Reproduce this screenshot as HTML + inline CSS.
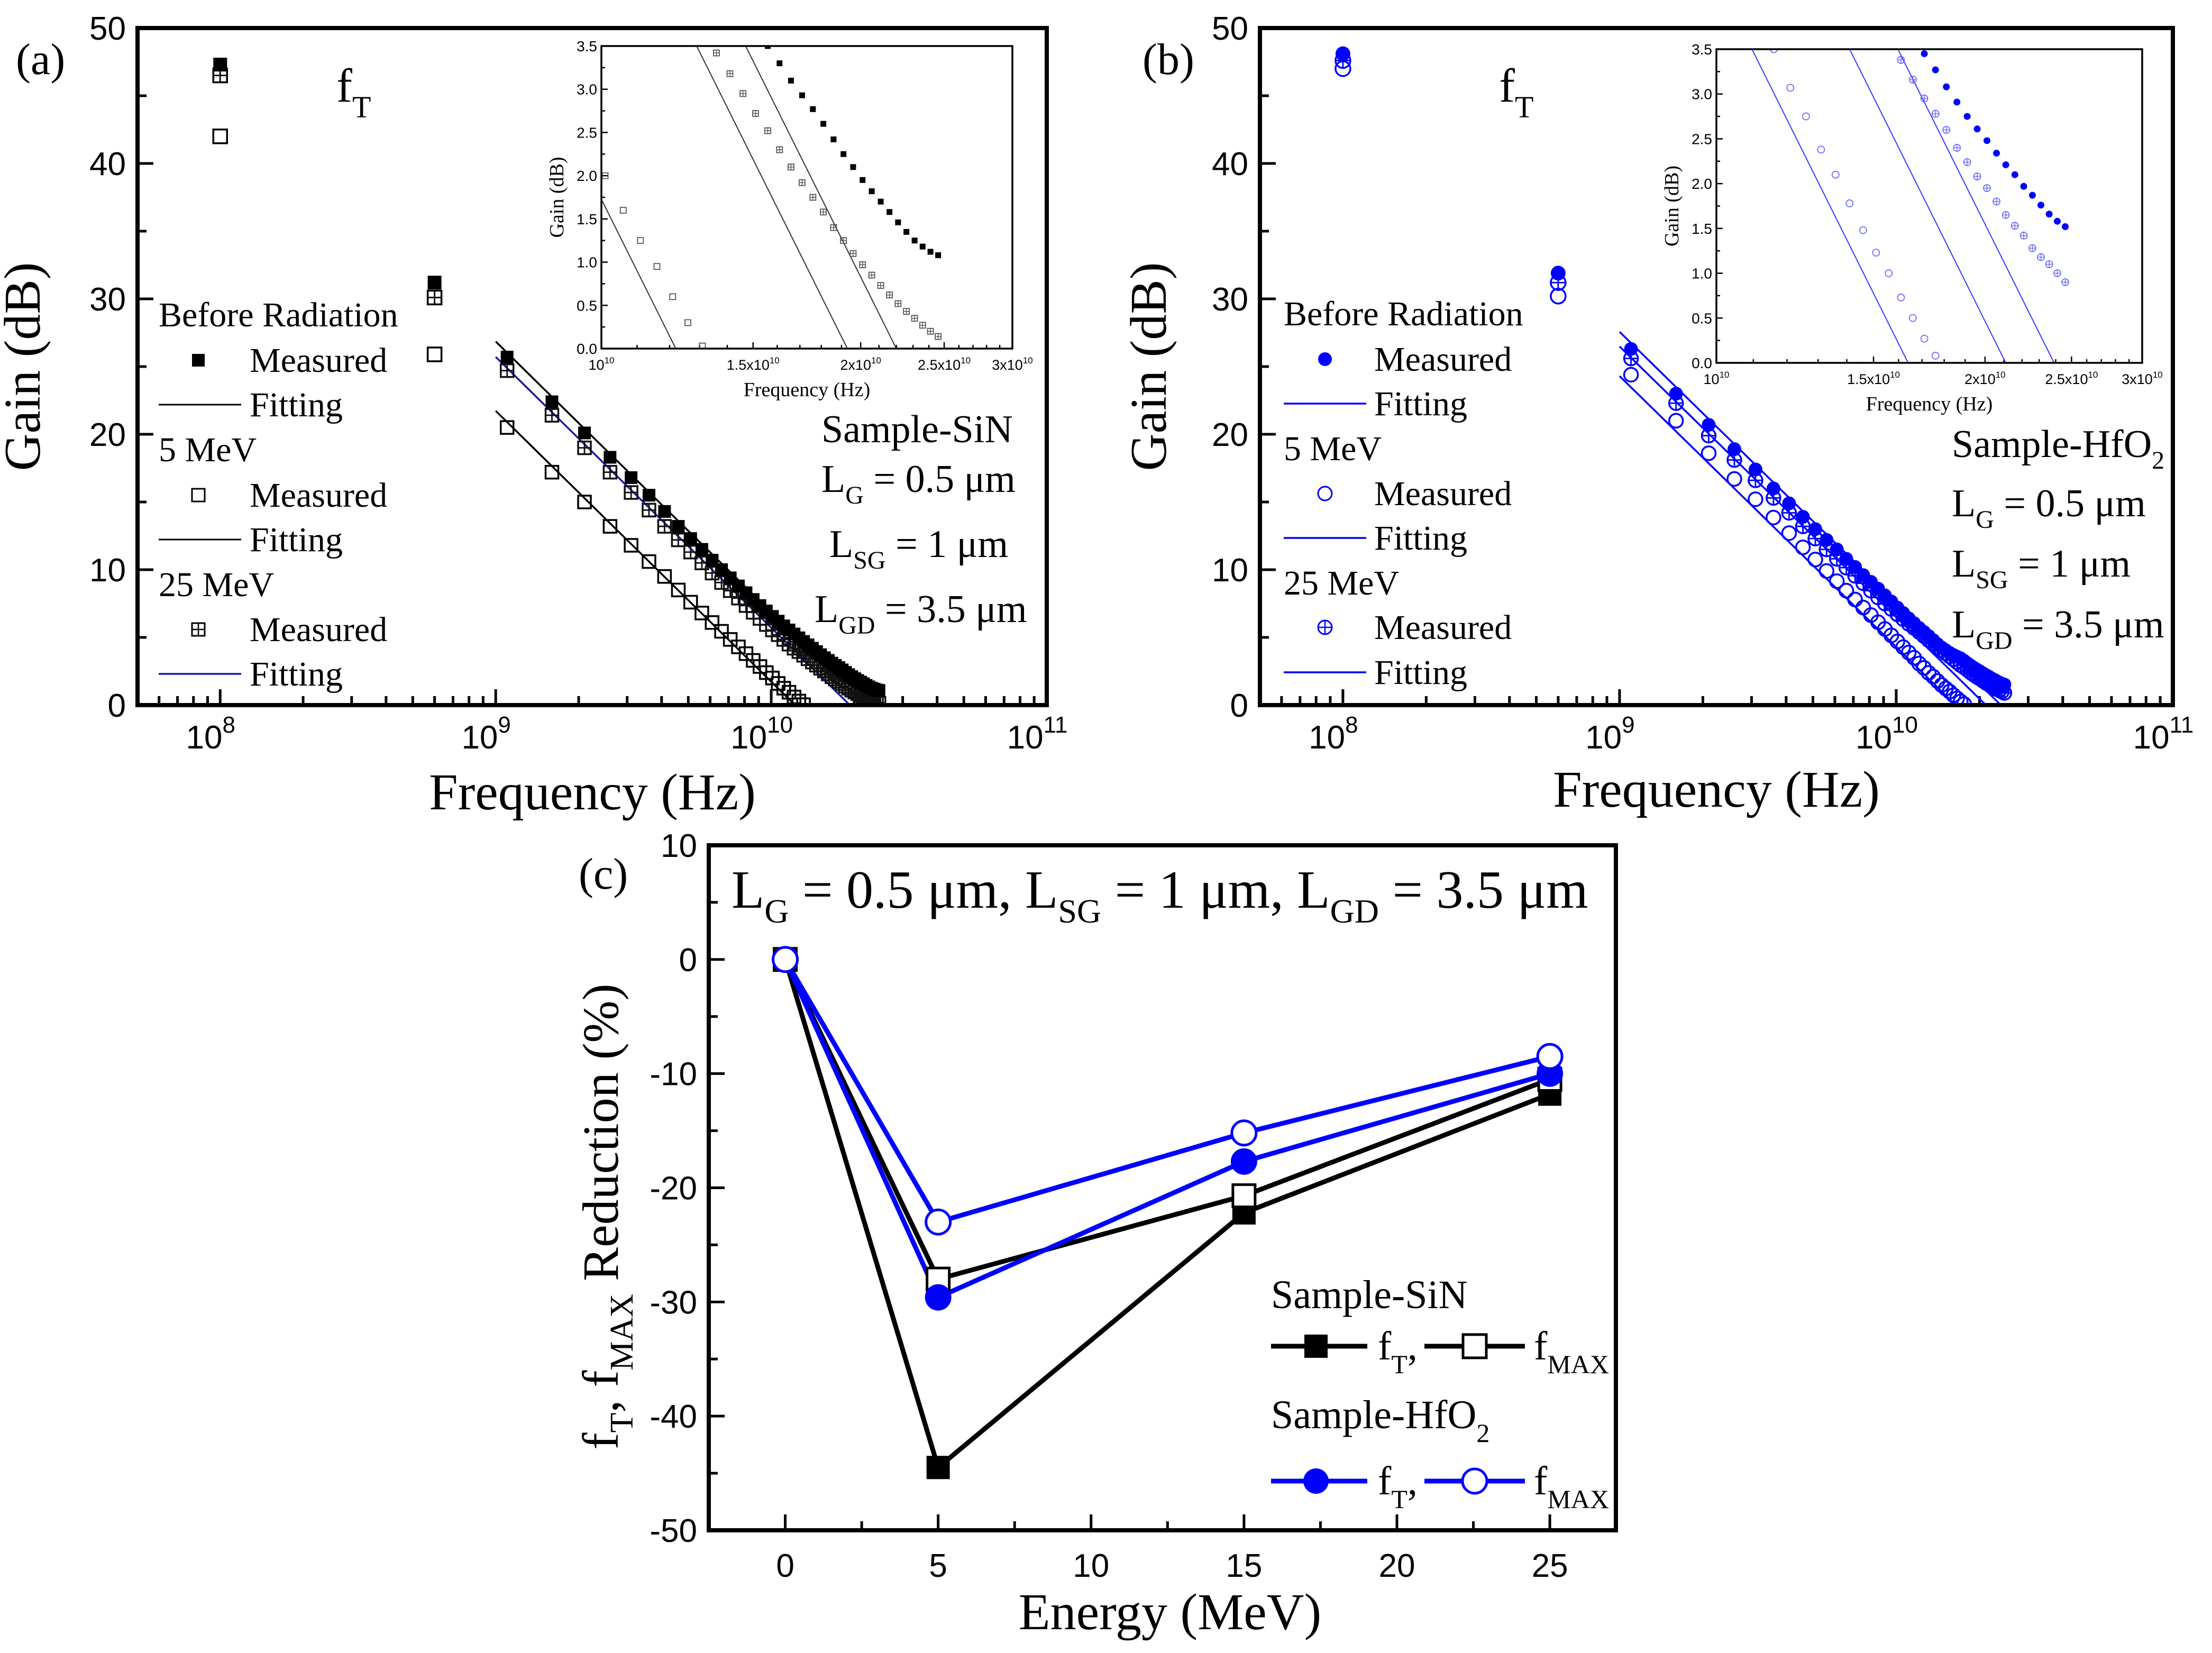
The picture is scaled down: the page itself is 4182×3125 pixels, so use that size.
<!DOCTYPE html>
<html><head><meta charset="utf-8"><title>Gain vs Frequency and fT/fMAX Reduction</title>
<style>
html,body{margin:0;padding:0;background:#fff;}
svg{display:block;}
.serif{font-family:"Liberation Serif","DejaVu Serif",serif;}
.sans{font-family:"Liberation Sans","DejaVu Sans",sans-serif;}
</style></head>
<body>
<svg id="fig" xmlns="http://www.w3.org/2000/svg" width="4182" height="3125" viewBox="0 0 4182 3125">
<defs>
<clipPath id="clipA"><rect x="260" y="53" width="1719" height="1280"/></clipPath>
<clipPath id="clipB"><rect x="2382" y="53" width="1726" height="1280"/></clipPath>
<clipPath id="clipIA"><rect x="1137" y="87" width="777" height="572"/></clipPath>
<clipPath id="clipIB"><rect x="3245" y="93" width="805" height="593"/></clipPath>
</defs>
<rect x="0" y="0" width="4182" height="3125" fill="#fff"/>

<!-- Panel labels -->
<text class="serif" x="30" y="140" font-size="84">(a)</text>
<text class="serif" x="2160" y="140" font-size="84">(b)</text>
<text class="serif" x="1094" y="1680" font-size="84">(c)</text>

<!-- Panel A texts -->
<text class="serif" x="75" y="693" font-size="98" text-anchor="middle" transform="rotate(-90 75 693)">Gain (dB)</text>
<text class="serif" x="1120" y="1530" font-size="98" text-anchor="middle">Frequency (Hz)</text>
<text class="serif" x="636" y="192" font-size="90">f<tspan font-size="58" dy="30">T</tspan></text>
<g class="serif" font-size="66">
<text x="300" y="617">Before Radiation</text>
<rect x="363" y="669" width="24" height="24" fill="#000"/>
<text x="472" y="703">Measured</text>
<line x1="300" y1="765" x2="456" y2="765" stroke="#000" stroke-width="3"/>
<text x="472" y="787">Fitting</text>
<text x="300" y="872">5 MeV</text>
<rect x="363" y="924" width="24" height="24" fill="none" stroke="#000" stroke-width="3"/>
<text x="472" y="958">Measured</text>
<line x1="300" y1="1020" x2="456" y2="1020" stroke="#000" stroke-width="3"/>
<text x="472" y="1042">Fitting</text>
<text x="300" y="1127">25 MeV</text>
<g><rect x="363" y="1178" width="24" height="24" fill="none" stroke="#000" stroke-width="3"/><line x1="375" y1="1178" x2="375" y2="1202" stroke="#000" stroke-width="2.5"/><line x1="363" y1="1190" x2="387" y2="1190" stroke="#000" stroke-width="2.5"/></g>
<text x="472" y="1212">Measured</text>
<line x1="300" y1="1274" x2="456" y2="1274" stroke="#1a1aa0" stroke-width="3.5"/>
<text x="472" y="1296">Fitting</text>
</g>
<g class="serif" font-size="74">
<text x="1553" y="836">Sample-SiN</text>
<text x="1553" y="930">L<tspan font-size="48" dy="22">G</tspan><tspan dy="-22"> = 0.5 μm</tspan></text>
<text x="1568" y="1053">L<tspan font-size="48" dy="22">SG</tspan><tspan dy="-22"> = 1 μm</tspan></text>
<text x="1540" y="1176">L<tspan font-size="48" dy="22">GD</tspan><tspan dy="-22"> = 3.5 μm</tspan></text>
</g>

<!-- Panel B texts -->
<text class="serif" x="2204" y="693" font-size="98" text-anchor="middle" transform="rotate(-90 2204 693)">Gain (dB)</text>
<text class="serif" x="3245" y="1525" font-size="98" text-anchor="middle">Frequency (Hz)</text>
<text class="serif" x="2834" y="192" font-size="90">f<tspan font-size="58" dy="30">T</tspan></text>
<g class="serif" font-size="66">
<text x="2427" y="615">Before Radiation</text>
<circle cx="2505" cy="679" r="13" fill="#0000ff"/>
<text x="2598" y="701">Measured</text>
<line x1="2427" y1="763" x2="2583" y2="763" stroke="#0000ff" stroke-width="3.5"/>
<text x="2598" y="785">Fitting</text>
<text x="2427" y="870">5 MeV</text>
<circle cx="2505" cy="933" r="13" fill="none" stroke="#0000ff" stroke-width="3"/>
<text x="2598" y="955">Measured</text>
<line x1="2427" y1="1017" x2="2583" y2="1017" stroke="#0000ff" stroke-width="3.5"/>
<text x="2598" y="1039">Fitting</text>
<text x="2427" y="1124">25 MeV</text>
<g><circle cx="2505" cy="1186" r="13" fill="none" stroke="#0000ff" stroke-width="3"/><line x1="2505" y1="1173" x2="2505" y2="1199" stroke="#0000ff" stroke-width="2.5"/><line x1="2492" y1="1186" x2="2518" y2="1186" stroke="#0000ff" stroke-width="2.5"/></g>
<text x="2598" y="1208">Measured</text>
<line x1="2427" y1="1271" x2="2583" y2="1271" stroke="#0000ff" stroke-width="3.5"/>
<text x="2598" y="1293">Fitting</text>
</g>
<g class="serif" font-size="74">
<text x="3690" y="864">Sample-HfO<tspan font-size="48" dy="22">2</tspan></text>
<text x="3690" y="976">L<tspan font-size="48" dy="22">G</tspan><tspan dy="-22"> = 0.5 μm</tspan></text>
<text x="3690" y="1090">L<tspan font-size="48" dy="22">SG</tspan><tspan dy="-22"> = 1 μm</tspan></text>
<text x="3690" y="1205">L<tspan font-size="48" dy="22">GD</tspan><tspan dy="-22"> = 3.5 μm</tspan></text>
</g>

<!-- Panel C texts -->
<text class="serif" x="1383" y="1716" font-size="102">L<tspan font-size="64" dy="28">G</tspan><tspan dy="-28"> = 0.5 μm, L</tspan><tspan font-size="64" dy="28">SG</tspan><tspan dy="-28"> = 1 μm, L</tspan><tspan font-size="64" dy="28">GD</tspan><tspan dy="-28"> = 3.5 μm</tspan></text>
<text class="serif" x="0" y="0" font-size="96" text-anchor="middle" transform="translate(1168 2300) rotate(-90)">f<tspan font-size="62" dy="28">T</tspan><tspan dy="-28">, f</tspan><tspan font-size="62" dy="28">MAX</tspan><tspan dy="-28"> Reduction (%)</tspan></text>
<text class="serif" x="2212" y="3080" font-size="98" text-anchor="middle">Energy (MeV)</text>
<g class="serif" font-size="76">
<text x="2403" y="2473">Sample-SiN</text>
<line x1="2403" y1="2545" x2="2585" y2="2545" stroke="#000" stroke-width="9"/>
<rect x="2466" y="2523" width="44" height="44" fill="#000"/>
<text x="2605" y="2570">f<tspan font-size="50" dy="26">T</tspan><tspan dy="-26">,</tspan></text>
<line x1="2693" y1="2545" x2="2883" y2="2545" stroke="#000" stroke-width="9"/>
<rect x="2766" y="2523" width="44" height="44" fill="#fff" stroke="#000" stroke-width="5"/>
<text x="2900" y="2570">f<tspan font-size="50" dy="26">MAX</tspan></text>
<text x="2403" y="2700">Sample-HfO<tspan font-size="50" dy="26">2</tspan></text>
<line x1="2403" y1="2800" x2="2585" y2="2800" stroke="#0000ff" stroke-width="9"/>
<circle cx="2488" cy="2800" r="24" fill="#0000ff"/>
<text x="2605" y="2825">f<tspan font-size="50" dy="26">T</tspan><tspan dy="-26">,</tspan></text>
<line x1="2693" y1="2800" x2="2883" y2="2800" stroke="#0000ff" stroke-width="9"/>
<circle cx="2788" cy="2800" r="23" fill="#fff" stroke="#0000ff" stroke-width="5"/>
<text x="2900" y="2825">f<tspan font-size="50" dy="26">MAX</tspan></text>
</g>
</svg>

<script>
// ---------- DATA ----------
const lowFreqGHz = [0.1, 0.6];
const lowBeforeA = [47.3, 31.2];
const low5MeVA = [42.0, 25.9];
const low25MeVA = [46.5, 30.1];
const sweepGHz = [1.1,1.6,2.1,2.6,3.1,3.6,4.1,4.6,5.1,5.6,6.1,6.6,7.1,7.6,8.1,8.6,9.1,9.6,10.1,10.6,11.1,11.6,12.1,12.6,13.1,13.6,14.1,14.6,15.1,15.6,16.1,16.6,17.1,17.6,18.1,18.6,19.1,19.6,20.1,20.6,21.1,21.6,22.1,22.6,23.1,23.6,24.1,24.6];
const beforeA = [25.7,22.4,20.1,18.3,16.8,15.5,14.3,13.2,12.3,11.5,10.7,10.0,9.4,8.8,8.3,7.8,7.35,6.95,6.55,6.2,5.85,5.55,5.25,4.97,4.7,4.45,4.2,3.95,3.72,3.5,3.3,3.1,2.93,2.77,2.6,2.42,2.25,2.1,1.95,1.82,1.7,1.58,1.46,1.35,1.25,1.18,1.12,1.08];
const rad5MeVA = [20.5,17.2,15.0,13.2,11.8,10.6,9.5,8.5,7.6,6.8,6.1,5.45,4.85,4.3,3.8,3.3,2.85,2.4,2.0,1.6,1.25,0.95,0.6,0.3,0.03];
const rad25MeVA = [24.7,21.4,19.0,17.2,15.7,14.4,13.2,12.2,11.3,10.5,9.75,9.05,8.45,7.9,7.35,6.85,6.4,5.95,5.55,5.2,4.85,4.5,4.2,3.95,3.68,3.42,3.18,2.95,2.72,2.52,2.3,2.1,1.92,1.75,1.58,1.4,1.25,1.1,0.97,0.85,0.73,0.62,0.52,0.43,0.35,0.27,0.2,0.14];
const fitFtA = [22.0, 12.2, 19.3];

const lowBeforeB = [48.1, 31.9];
const low5MeVB = [47.0, 30.2];
const low25MeVB = [47.6, 31.2];
const beforeB = [26.3,23.0,20.7,18.9,17.4,16.0,14.9,13.9,13.0,12.2,11.5,10.8,10.2,9.6,9.1,8.6,8.1,7.65,7.2,6.8,6.4,6.05,5.7,5.4,5.1,4.8,4.5,4.25,4.05,3.85,3.7,3.57,3.45,3.27,3.08,2.91,2.75,2.61,2.48,2.34,2.21,2.1,1.97,1.87,1.76,1.66,1.58,1.52];
const rad5MeVB = [24.4,21.0,18.6,16.7,15.2,13.85,12.7,11.65,10.75,9.9,9.15,8.45,7.8,7.2,6.65,6.12,5.62,5.15,4.7,4.28,3.88,3.5,3.07,2.75,2.38,2.1,1.78,1.48,1.23,1.0,0.73,0.5,0.27,0.08];
const rad25MeVB = [25.6,22.3,19.9,18.1,16.6,15.3,14.2,13.2,12.3,11.5,10.8,10.15,9.55,9.0,8.45,7.95,7.5,7.1,6.7,6.35,6.0,5.7,5.4,5.1,4.8,4.55,4.3,4.05,3.82,3.6,3.38,3.16,2.95,2.78,2.6,2.4,2.24,2.08,1.95,1.8,1.65,1.53,1.42,1.28,1.18,1.1,1.0,0.9];
const fitFtB = [21.1, 16.4, 23.9];

const energyMeV = [0, 5, 15, 25];
const sinFt = [0, -44.5, -22.2, -11.8];
const sinFmax = [0, -28.0, -20.7, -10.5];
const hfo2Ft = [0, -29.6, -17.7, -10.0];
const hfo2Fmax = [0, -23.0, -15.2, -8.5];

const mainYTicks = [0, 10, 20, 30, 40, 50];
const mainXExp = [8, 9, 10, 11];
const insetYTicks = ['0.0','0.5','1.0','1.5','2.0','2.5','3.0','3.5'];
const insetXTicks = [1.0, 1.5, 2.0, 2.5, 3.0];
const cXTicks = [0, 5, 10, 15, 20, 25];
const cYTicks = [10, 0, -10, -20, -30, -40, -50];

// ---------- DRAWING ----------
const NS = 'http://www.w3.org/2000/svg';
const svg = document.getElementById('fig');
function mk(tag, attrs, name, parent) {
  const el = document.createElementNS(NS, tag);
  for (const k in attrs) el.setAttribute(k, attrs[k]);
  
  
  (parent || svg).appendChild(el);
  return el;
}
function logAxis(L, R, lmin, lmax) { return f => L + (Math.log10(f) - lmin) / (lmax - lmin) * (R - L); }
function linAxis(a, b, vmin, vmax) { return v => a + (v - vmin) / (vmax - vmin) * (b - a); }

const PA = {L:260, R:1979, T:53, B:1333};
const PB = {L:2382, R:4108, T:53, B:1333};
const IA = {L:1137, R:1914, T:87, B:659};
const IB = {L:3245, R:4050, T:93, B:686};
const PC = {L:1340, R:3055, T:1598, B:2893};

function marker(g, kind, x, y, s, color, sw, name) {
  if (kind === 'fsq') {
    mk('rect', {x:x-s/2, y:y-s/2, width:s, height:s, fill:color}, name, g);
  } else if (kind === 'osq') {
    mk('rect', {x:x-s/2, y:y-s/2, width:s, height:s, fill:'none', stroke:color, 'stroke-width':sw}, name, g);
  } else if (kind === 'xsq') {
    const gg = mk('g', {}, name, g);
    mk('rect', {x:x-s/2, y:y-s/2, width:s, height:s, fill:'none', stroke:color, 'stroke-width':sw}, 'marker-box', gg);
    mk('path', {d:`M${x} ${y-s/2}V${y+s/2}M${x-s/2} ${y}H${x+s/2}`, stroke:color, 'stroke-width':sw*0.8}, 'marker-cross', gg);
  } else if (kind === 'fci') {
    mk('circle', {cx:x, cy:y, r:s/2, fill:color}, name, g);
  } else if (kind === 'oci') {
    mk('circle', {cx:x, cy:y, r:s/2, fill:'none', stroke:color, 'stroke-width':sw}, name, g);
  } else if (kind === 'xci') {
    const gg = mk('g', {}, name, g);
    mk('circle', {cx:x, cy:y, r:s/2, fill:'none', stroke:color, 'stroke-width':sw}, 'marker-ring', gg);
    mk('path', {d:`M${x} ${y-s/2}V${y+s/2}M${x-s/2} ${y}H${x+s/2}`, stroke:color, 'stroke-width':sw*0.8}, 'marker-cross', gg);
  }
}

function mainPanel(P, id, clip, series, lows, fits, fitColors) {
  const X = logAxis(P.L, P.R, 7.7, 11), Y = linAxis(P.B, P.T, 0, 50);
  const gAx = mk('g', {}, 'axes-' + id);
  for (let e = 7; e <= 10; e++) for (let m = 1; m <= 9; m++) {
    const f = m * Math.pow(10, e); const x = X(f);
    if (x < P.L + 1 || x > P.R - 1) continue;
    const len = m === 1 ? 30 : 17;
    mk('line', {x1:x, y1:P.B, x2:x, y2:P.B - len, stroke:'#000', 'stroke-width':5}, 'x-tick-' + id, gAx);
  }
  mainXExp.forEach(e => {
    const x = X(Math.pow(10, e));
    const t = mk('text', {x:x - 18, y:P.B + 82, 'font-size':62, 'text-anchor':'middle', class:'sans'}, 'x-tick-label-' + id, gAx);
    t.textContent = '10';
    const s = mk('tspan', {'font-size':44, dy:-30}, 'x-tick-exp', t);
    s.textContent = String(e);
  });
  for (let v = 0; v <= 50; v += 5) {
    const y = Y(v); const len = v % 10 === 0 ? 30 : 17;
    mk('line', {x1:P.L, y1:y, x2:P.L + len, y2:y, stroke:'#000', 'stroke-width':5}, 'y-tick-' + id, gAx);
  }
  mainYTicks.forEach(v => {
    const t = mk('text', {x:P.L - 22, y:Y(v) + 22, 'font-size':62, 'text-anchor':'end', class:'sans'}, 'y-tick-label-' + id, gAx);
    t.textContent = String(v);
  });
  const gFit = mk('g', {'clip-path':'url(#' + clip + ')'}, 'fit-lines-' + id);
  fits.forEach((ft, i) => {
    const g0 = 20 * Math.log10(ft / 1.0);
    mk('line', {x1:X(1e9), y1:Y(g0), x2:X(ft * 1e9), y2:Y(0), stroke:fitColors[i], 'stroke-width':3.5}, 'fit-line-' + id + '-' + i, gFit);
  });
  const gM = mk('g', {'clip-path':'url(#' + clip + ')'}, 'measured-points-' + id);
  series.forEach(s => {
    s.vals.forEach((v, i) => {
      marker(gM, s.kind, X(sweepGHz[i] * 1e9), Y(v), s.size, s.color, 3.5, s.name);
    });
  });
  lows.forEach(s => {
    s.vals.forEach((v, i) => {
      marker(gM, s.kind, X(lowFreqGHz[i] * 1e9), Y(v), s.size, s.color, 3.5, s.name);
    });
  });
  mk('rect', {x:P.L, y:P.T, width:P.R - P.L, height:P.B - P.T, fill:'none', stroke:'#000', 'stroke-width':8}, 'plot-frame-' + id);
}

function insetPanel(I, id, clip, series, fits, fitColor, markerColor) {
  const X = logAxis(I.L, I.R, 10, Math.log10(3e10)), Y = linAxis(I.B, I.T, 0, 3.5);
  mk('rect', {x:I.L, y:I.T, width:I.R - I.L, height:I.B - I.T, fill:'#fff'}, 'inset-bg-' + id);
  const gAx = mk('g', {}, 'inset-axes-' + id);
  for (let k = 10; k <= 30; k++) {
    const x = X(k * 1e9); const major = k % 5 === 0;
    mk('line', {x1:x, y1:I.B, x2:x, y2:I.B - (major ? 12 : 7), stroke:'#000', 'stroke-width':2.5}, 'inset-x-tick', gAx);
  }
  insetXTicks.forEach(v => {
    const t = mk('text', {x:X(v * 1e10), y:I.B + 40, 'font-size':27, 'text-anchor':'middle', class:'sans'}, 'inset-x-tick-label', gAx);
    t.textContent = v === 1.0 ? '10' : (v.toFixed(1).replace('.0', '') + 'x10');
    const s = mk('tspan', {'font-size':17, dy:-12}, 'inset-x-tick-exp', t);
    s.textContent = '10';
  });
  for (let k = 0; k <= 14; k++) {
    const y = Y(k * 0.25);
    mk('line', {x1:I.L, y1:y, x2:I.L + (k % 2 === 0 ? 12 : 7), y2:y, stroke:'#000', 'stroke-width':2.5}, 'inset-y-tick', gAx);
  }
  insetYTicks.forEach(v => {
    const t = mk('text', {x:I.L - 8, y:Y(parseFloat(v)) + 10, 'font-size':28, 'text-anchor':'end', class:'sans'}, 'inset-y-tick-label', gAx);
    t.textContent = v;
  });
  const cx = (I.L + I.R) / 2, cy = (I.T + I.B) / 2;
  const yt = mk('text', {x:0, y:0, 'font-size':38, 'text-anchor':'middle', class:'serif', transform:`translate(${I.L - 72} ${cy}) rotate(-90)`}, 'inset-y-axis-title-' + id, gAx);
  yt.textContent = 'Gain (dB)';
  const xt = mk('text', {x:cx, y:I.B + 90, 'font-size':38, 'text-anchor':'middle', class:'serif'}, 'inset-x-axis-title-' + id, gAx);
  xt.textContent = 'Frequency (Hz)';
  const gF = mk('g', {'clip-path':'url(#' + clip + ')'}, 'inset-fit-lines-' + id);
  fits.forEach((ft, i) => {
    mk('line', {x1:X(1e9), y1:Y(20 * Math.log10(ft)), x2:X(ft * 1e9), y2:Y(0), stroke:fitColor, 'stroke-width':2}, 'inset-fit-line-' + id, gF);
  });
  const gM = mk('g', {'clip-path':'url(#' + clip + ')'}, 'inset-points-' + id);
  series.forEach(s => {
    s.vals.forEach((v, i) => {
      const f = sweepGHz[i] * 1e9;
      if (f < 1e10) return;
      marker(gM, s.kind, X(f), Y(v), s.isize, markerColor(s), 1.8, 'inset-' + s.name);
    });
  });
  mk('rect', {x:I.L, y:I.T, width:I.R - I.L, height:I.B - I.T, fill:'none', stroke:'#000', 'stroke-width':3.5}, 'inset-frame-' + id);
}

const seriesA = [
  {vals:rad5MeVA, kind:'osq', size:24, isize:11, color:'#000', name:'point-5mev-a'},
  {vals:rad25MeVA, kind:'xsq', size:24, isize:11, color:'#111', name:'point-25mev-a'},
  {vals:beforeA, kind:'fsq', size:24, isize:11, color:'#000', name:'point-before-a'}
];
const lowsA = [
  {vals:low5MeVA, kind:'osq', size:26, color:'#000', name:'point-5mev-low-a'},
  {vals:low25MeVA, kind:'xsq', size:26, color:'#000', name:'point-25mev-low-a'},
  {vals:lowBeforeA, kind:'fsq', size:26, color:'#000', name:'point-before-low-a'}
];
mainPanel(PA, 'a', 'clipA', seriesA, lowsA, fitFtA, ['#000', '#000', '#1a1aa0']);
insetPanel(IA, 'a', 'clipIA', seriesA, fitFtA, '#333', s => s.kind === 'fsq' ? '#000' : '#555');

const seriesB = [
  {vals:rad5MeVB, kind:'oci', size:26, isize:13, color:'#0000ff', name:'point-5mev-b'},
  {vals:rad25MeVB, kind:'xci', size:26, isize:13, color:'#0000ff', name:'point-25mev-b'},
  {vals:beforeB, kind:'fci', size:26, isize:13, color:'#0000ff', name:'point-before-b'}
];
const lowsB = [
  {vals:low5MeVB, kind:'oci', size:28, color:'#0000ff', name:'point-5mev-low-b'},
  {vals:low25MeVB, kind:'xci', size:28, color:'#0000ff', name:'point-25mev-low-b'},
  {vals:lowBeforeB, kind:'fci', size:28, color:'#0000ff', name:'point-before-low-b'}
];
mainPanel(PB, 'b', 'clipB', seriesB, lowsB, fitFtB, ['#0000ff', '#0000ff', '#0000ff']);
insetPanel(IB, 'b', 'clipIB', seriesB, fitFtB, '#3a3aff', s => s.kind === 'fci' ? '#0000ff' : '#6b6bff');

(function () {
  const X = linAxis(PC.L, PC.R, -2.5, 27.16), Y = linAxis(PC.B, PC.T, -50, 10);
  const gAx = mk('g', {}, 'axes-c');
  for (let v = -2.5; v <= 27.5; v += 2.5) {
    const x = X(v); if (x <= PC.L + 1 || x >= PC.R - 1) continue;
    const major = Math.abs(v % 5) < 1e-6;
    mk('line', {x1:x, y1:PC.B, x2:x, y2:PC.B - (major ? 30 : 17), stroke:'#000', 'stroke-width':5}, 'x-tick-c', gAx);
  }
  cXTicks.forEach(v => {
    const t = mk('text', {x:X(v), y:PC.B + 88, 'font-size':62, 'text-anchor':'middle', class:'sans'}, 'x-tick-label-c', gAx);
    t.textContent = String(v);
  });
  for (let v = -50; v <= 10; v += 5) {
    const y = Y(v);
    mk('line', {x1:PC.L, y1:y, x2:PC.L + (v % 10 === 0 ? 30 : 17), y2:y, stroke:'#000', 'stroke-width':5}, 'y-tick-c', gAx);
  }
  cYTicks.forEach(v => {
    const t = mk('text', {x:PC.L - 22, y:Y(v) + 22, 'font-size':62, 'text-anchor':'end', class:'sans'}, 'y-tick-label-c', gAx);
    t.textContent = String(v);
  });
  const defs = [
    {vals:sinFt, color:'#000', kind:'fsq', name:'sin-ft'},
    {vals:sinFmax, color:'#000', kind:'osq', name:'sin-fmax'},
    {vals:hfo2Ft, color:'#0000ff', kind:'fci', name:'hfo2-ft'},
    {vals:hfo2Fmax, color:'#0000ff', kind:'oci', name:'hfo2-fmax'}
  ];
  defs.forEach(d => {
    const pts = d.vals.map((v, i) => X(energyMeV[i]) + ',' + Y(v)).join(' ');
    mk('polyline', {points:pts, fill:'none', stroke:d.color, 'stroke-width':9, 'stroke-linejoin':'round'}, 'line-' + d.name);
  });
  defs.forEach(d => {
    const g = mk('g', {}, 'markers-' + d.name);
    d.vals.forEach((v, i) => {
      const x = X(energyMeV[i]), y = Y(v);
      if (d.kind === 'fsq') mk('rect', {x:x - 22, y:y - 22, width:44, height:44, fill:'#000'}, 'point-' + d.name, g);
      else if (d.kind === 'osq') mk('rect', {x:x - 21, y:y - 21, width:42, height:42, fill:'#fff', stroke:'#000', 'stroke-width':5}, 'point-' + d.name, g);
      else if (d.kind === 'fci') mk('circle', {cx:x, cy:y, r:25, fill:'#0000ff'}, 'point-' + d.name, g);
      else mk('circle', {cx:x, cy:y, r:23, fill:'#fff', stroke:'#0000ff', 'stroke-width':5}, 'point-' + d.name, g);
    });
  });
  mk('rect', {x:PC.L, y:PC.T, width:PC.R - PC.L, height:PC.B - PC.T, fill:'none', stroke:'#000', 'stroke-width':8}, 'plot-frame-c');
})();
</script>
</body></html>
